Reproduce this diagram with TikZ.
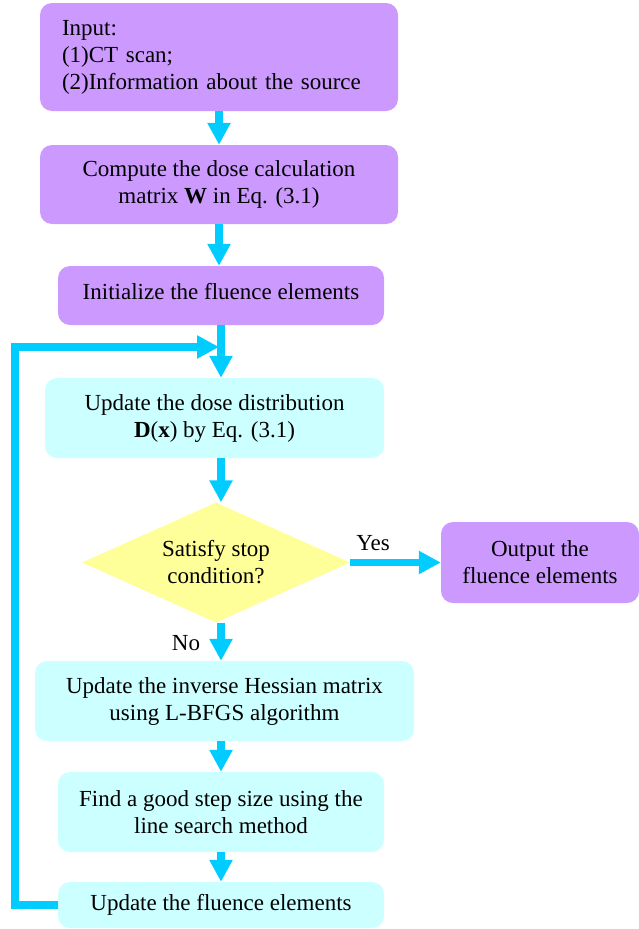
\documentclass[tikz,border=0pt]{standalone}
\usepackage{fontspec}
\setmainfont{Liberation Serif}
\usetikzlibrary{arrows.meta,shapes.geometric}
\definecolor{boxpurple}{RGB}{204,153,255}
\definecolor{boxcyan}{RGB}{204,255,255}
\definecolor{boxyellow}{RGB}{255,255,153}
\definecolor{arrcyan}{RGB}{0,204,255}
\begin{document}
\begin{tikzpicture}[x=1pt,y=1pt,
  every node/.style={font=\fontsize{23}{27}\selectfont},
  pbox/.style={rectangle, rounded corners=12pt, fill=boxpurple, draw=none, align=center, inner sep=0pt},
  cbox/.style={rectangle, rounded corners=12pt, fill=boxcyan, draw=none, align=center, inner sep=0pt},
  arr/.style={draw=arrcyan, line width=7.5pt, -{Triangle[width=22pt,length=22pt]}},
  lbl/.style={inner sep=0pt}
]
\useasboundingbox (0,0) rectangle (639,-929);

\node[pbox, minimum width=358pt, minimum height=108pt, text width=314pt, align=left] (in) at (219,-57)
  {Input:\\(1)CT scan;\\(2)Information about the source\\[-4pt]};
\node[pbox, minimum width=358pt, minimum height=79pt] (comp) at (219,-184.5)
  {Compute the dose calculation\\matrix \textbf{W} in Eq. (3.1)};
\node[pbox, minimum width=326pt, minimum height=59pt] (init) at (221,-295.5)
  {Initialize the fluence elements\\[-19pt]};
\node[cbox, minimum width=339pt, minimum height=80pt] (dose) at (214.5,-418)
  {Update the dose distribution\\\textbf{D}(\textbf{x}) by Eq. (3.1)};
\node[diamond, aspect=2.233, fill=boxyellow, draw=none, inner sep=0pt,
  minimum width=268pt, minimum height=120pt, align=center] (dec) at (216,-562.5)
  {Satisfy stop\\condition?};
\node[pbox, minimum width=198pt, minimum height=81pt] (out) at (540,-562.5)
  {Output the\\fluence elements};
\node[cbox, minimum width=379pt, minimum height=80pt] (hess) at (224.5,-701)
  {Update the inverse Hessian matrix\\using L-BFGS algorithm};
\node[cbox, minimum width=326pt, minimum height=80pt] (stepbox) at (221,-812)
  {Find a good step size using the\\line search method};
\node[cbox, minimum width=326pt, minimum height=46pt] (upd) at (221,-905)
  {Update the fluence elements};

\node[lbl] (yes) at (373,-543) {Yes};
\node[lbl] (no) at (186,-643) {No};

\coordinate (ax) at (221,0);
\coordinate (loopl) at (15,-347);
\coordinate (loopr) at (219,-347);

\draw[arr] (in.south) -- (comp.north);
\draw[arr] (comp.south) -- (comp.south |- init.north);
\draw[arr] (init.south) -- (init.south |- dose.north);
\draw[arr] (ax |- dose.south) -- (ax |- dec.north);
\draw[arr] (dec.east) -- (out.west);
\draw[arr] (ax |- dec.south) -- (ax |- hess.north);
\draw[arr] (ax |- hess.south) -- (ax |- stepbox.north);
\draw[arr] (ax |- stepbox.south) -- (ax |- upd.north);
\draw[arr] (upd.west) -- (upd.west -| loopl) -- (loopl) -- (loopr);
\end{tikzpicture}
\end{document}
